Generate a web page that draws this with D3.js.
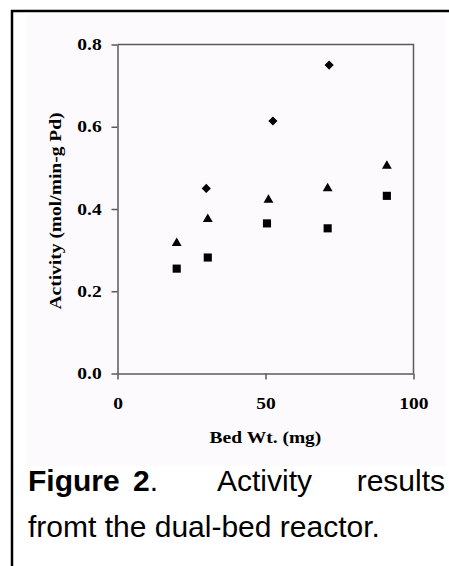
<!DOCTYPE html>
<html>
<head>
<meta charset="utf-8">
<script src="https://cdn.jsdelivr.net/npm/d3@7"></script>
<style>
  html, body { margin: 0; padding: 0; background: #fff; }
  svg { display: block; }
</style>
</head>
<body>
<svg width="449" height="566"></svg>
<script>
// data
var xTicks = [0, 50, 100];
var yTicks = [0.0, 0.2, 0.4, 0.6, 0.8];

var diamondX = [30, 52.5, 71.5];
var diamondY = [0.450, 0.614, 0.750];

var triangleX = [20, 30.5, 51, 71, 91];
var triangleY = [0.317, 0.375, 0.422, 0.450, 0.505];

var squareX = [20, 30.5, 50.5, 71, 91];
var squareY = [0.255, 0.282, 0.365, 0.353, 0.432];

var xTitle = "Bed Wt. (mg)";
var yTitle = "Activity (mol/min-g Pd)";

var svg = d3.select("svg");
var stretch = "scale(1.22,1)";   // the old figure's serif text is wide

//==================================================
// frame + faint background

svg.append("rect")
    .attr("x", 27).attr("y", 14)
    .attr("width", 419).attr("height", 452)
    .attr("fill", "#fcfafd");

svg.append("rect")
    .attr("x", 12).attr("y", 11)
    .attr("width", 520).attr("height", 620)
    .attr("fill", "none")
    .attr("stroke", "#000")
    .attr("stroke-width", 2.5);

//==================================================
// scales

var plotL = 117.5, plotR = 413.5, plotT = 44.5, plotB = 373.5;

var x = d3.scaleLinear().domain([0, 100]).range([plotL, plotR]);
var y = d3.scaleLinear().domain([0, 0.8]).range([plotB, plotT]);

var frameColor = "#5a5a5a";

// top and right edge of the plot box
svg.append("path")
    .attr("d", "M" + plotL + "," + plotT + "H" + plotR + "V" + plotB)
    .attr("fill", "none")
    .attr("stroke", frameColor)
    .attr("stroke-width", 1.5);

var yAxis = svg.append("g")
    .attr("transform", "translate(" + plotL + ",0)")
    .call(d3.axisLeft(y).tickValues(yTicks).tickFormat(d3.format(".1f"))
          .tickSize(6).tickSizeOuter(0).tickPadding(7));

var xAxis = svg.append("g")
    .attr("transform", "translate(0," + plotB + ")")
    .call(d3.axisBottom(x).tickValues(xTicks).tickFormat(d3.format("d"))
          .tickSize(6).tickSizeOuter(0).tickPadding(18));

[yAxis, xAxis].forEach(function(ax) {
    ax.selectAll("path, line")
        .attr("stroke", frameColor)
        .attr("stroke-width", 1.5);
    ax.selectAll("text")
        .attr("fill", "#000")
        .style("font-family", "'Liberation Serif', 'Times New Roman', serif")
        .style("font-weight", "bold")
        .style("font-size", "16px");
});
// stretch tick labels sideways around their own anchor
yAxis.selectAll(".tick text").attr("transform", stretch);
xAxis.selectAll(".tick text").attr("transform", stretch);

// axis titles
svg.append("text")
    .attr("transform", "translate(" + ((plotL + plotR) / 2) + ",443) " + stretch)
    .attr("text-anchor", "middle")
    .style("font-family", "'Liberation Serif', 'Times New Roman', serif")
    .style("font-weight", "bold")
    .style("font-size", "16px")
    .text(xTitle);

svg.append("text")
    .attr("transform", "translate(61," + ((plotT + plotB) / 2 + 2) + ") rotate(-90) " + stretch)
    .attr("text-anchor", "middle")
    .style("font-family", "'Liberation Serif', 'Times New Roman', serif")
    .style("font-weight", "bold")
    .style("font-size", "16px")
    .text(yTitle);

//==================================================
// markers

var plot = svg.append("g");

var pts = function(xs, ys) {
    return xs.map(function(v, i) { return [v, ys[i]]; });
};

plot.selectAll(".diamond")
    .data(pts(diamondX, diamondY))
    .enter().append("path")
    .attr("class", "diamond")
    .attr("d", d3.symbol().type(d3.symbolSquare).size(42))
    .attr("transform", function(d) {
        return "translate(" + x(d[0]) + "," + y(d[1]) + ") rotate(45)";
    })
    .attr("fill", "#000");

plot.selectAll(".triangle")
    .data(pts(triangleX, triangleY))
    .enter().append("path")
    .attr("class", "triangle")
    .attr("d", d3.symbol().type(d3.symbolTriangle).size(42))
    .attr("transform", function(d) {
        return "translate(" + x(d[0]) + "," + y(d[1]) + ")";
    })
    .attr("fill", "#000");

plot.selectAll(".square")
    .data(pts(squareX, squareY))
    .enter().append("path")
    .attr("class", "square")
    .attr("d", d3.symbol().type(d3.symbolSquare).size(66))
    .attr("transform", function(d) {
        return "translate(" + x(d[0]) + "," + y(d[1]) + ")";
    })
    .attr("fill", "#000");

//==================================================
// caption, laid out justified like the original

var cap = svg.append("g")
    .style("font-family", "'Liberation Sans', Arial, sans-serif")
    .style("font-size", "30px")
    .attr("fill", "#000");

cap.append("text").attr("x", 28).attr("y", 491)
    .style("font-weight", "bold").text("Figure");
cap.append("text").attr("x", 133).attr("y", 491)
    .style("font-weight", "bold").text("2")
  .append("tspan").style("font-weight", "normal").text(".");
cap.append("text").attr("x", 217).attr("y", 491).text("Activity");
cap.append("text").attr("x", 445).attr("y", 491)
    .attr("text-anchor", "end").text("results");
cap.append("text").attr("x", 28).attr("y", 537)
    .text("fromt the dual-bed reactor.");
</script>
</body>
</html>
